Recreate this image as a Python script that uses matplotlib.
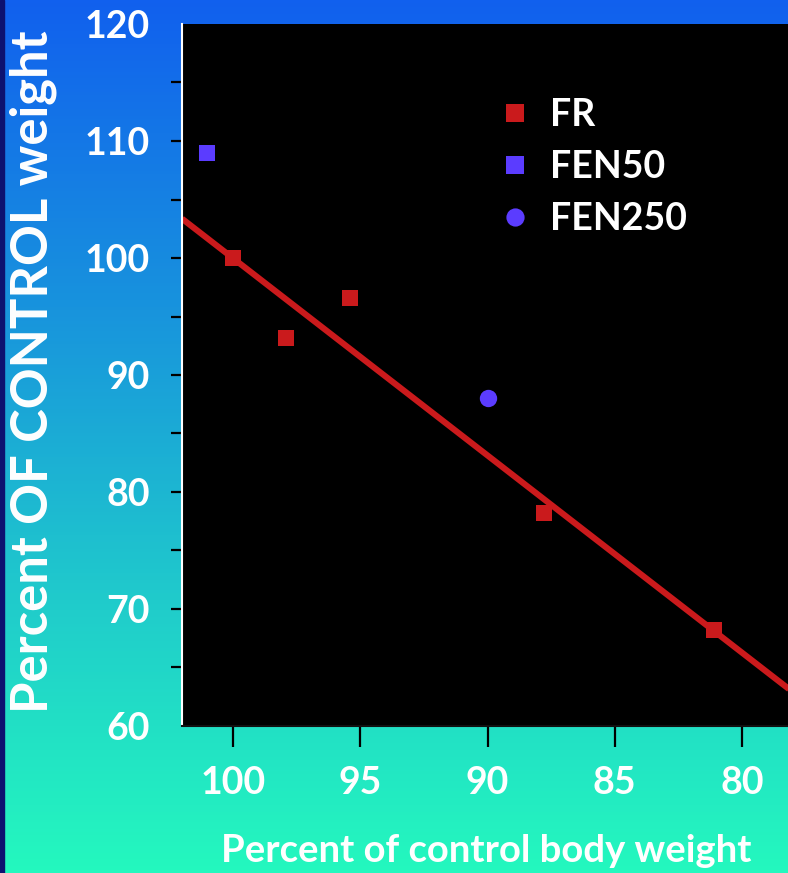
import numpy as np
import matplotlib
matplotlib.use("Agg")
import matplotlib.pyplot as plt
from matplotlib.colors import LinearSegmentedColormap

# ---- data ----
fr_x = [100.0, 97.9, 95.4, 87.8, 81.1]
fr_y = [100.0, 93.2, 96.6, 78.2, 68.2]
fen50_x = [101.0]
fen50_y = [109.0]
fen250_x = [90.0]
fen250_y = [88.0]
x_ticks = [100, 95, 90, 85, 80]
y_ticks = [60, 70, 80, 90, 100, 110, 120]
y_minor = [65, 75, 85, 95, 105, 115]
labels = ["FR", "FEN50", "FEN250"]

RED = "#CA1A1C"
BLUE = "#5B3CFF"
FONT = ["Lato", "DejaVu Sans"]
W = "bold"

fig = plt.figure(figsize=(7.88, 8.73), dpi=100)

# background gradient
bg = fig.add_axes([0, 0, 1, 1], zorder=-10)
cmap = LinearSegmentedColormap.from_list(
    "bg", [(0.0, "#1160EE"), (0.35, "#1893DD"), (0.7, "#20CDCB"), (1.0, "#24F8BE")])
grad = np.linspace(0, 1, 256).reshape(-1, 1)
bg.imshow(grad, aspect="auto", cmap=cmap, extent=[0, 1, 0, 1], origin="upper")
bg.add_patch(plt.Rectangle((0, 0), 4 / 788, 1, color="#0D1270", transform=bg.transAxes))
bg.set_xlim(0, 1)
bg.set_ylim(0, 1)
bg.axis("off")

ax = fig.add_axes([182 / 788, 147 / 873, 611 / 788, 702 / 873])
ax.set_facecolor("black")
ax.set_xlim(102, 78)
ax.set_ylim(60, 120)

# regression line through FR points
k, b = np.polyfit(fr_x, fr_y, 1)
xl = np.array([102, 78])
ax.plot(xl, k * xl + b, color=RED, lw=4.4, solid_capstyle="butt", zorder=2)

ax.plot(fr_x, fr_y, "s", color=RED, ms=12, mew=0, zorder=3, label=labels[0])
ax.plot(fen50_x, fen50_y, "s", color=BLUE, ms=12, mew=0, zorder=3, label=labels[1])
ax.plot(fen250_x, fen250_y, "o", color=BLUE, ms=12.5, mew=0, zorder=3, label=labels[2])

ax.set_xticks(x_ticks)
ax.set_xticklabels([str(v) for v in x_ticks])
ax.set_yticks(y_ticks)
ax.set_yticklabels([str(v) for v in y_ticks])
ax.set_yticks(y_minor, minor=True)

ax.tick_params(axis="x", direction="out", length=15, width=1.6, color="black",
               pad=14, labelcolor="white", labelsize=27)
ax.tick_params(axis="y", which="both", direction="out", length=8, width=1.6,
               color="black", pad=15, labelcolor="white", labelsize=27)
for t in ax.get_xticklabels() + ax.get_yticklabels():
    t.set_fontweight(W)
    t.set_family(FONT)
yt = ax.yaxis.get_major_ticks()
yt[0].tick1line.set_visible(False)
yt[-1].tick1line.set_visible(False)

for s in ["top", "right"]:
    ax.spines[s].set_visible(False)
ax.spines["left"].set_color("white")
ax.spines["left"].set_linewidth(1.5)
ax.spines["bottom"].set_color("#111111")
ax.spines["bottom"].set_linewidth(1.5)

fig.text(33 / 788, 1 - 372 / 873, "Percent OF CONTROL weight", color="white",
         fontsize=36.5, fontweight=W, family=FONT, rotation=90, ha="center", va="center")
fig.text(486 / 788, 1 - 851 / 873, "Percent of control body weight", color="white",
         fontsize=27.5, fontweight=W, family=FONT, ha="center", va="center")

leg = ax.legend(loc="upper left", bbox_to_anchor=(0.471, 0.942), frameon=False,
                labelcolor="white", handlelength=0.6, handletextpad=0.65,
                labelspacing=0.47, markerscale=1.05,
                prop={"family": FONT, "weight": W, "size": 27})

fig.savefig("out.png", dpi=100, facecolor=fig.get_facecolor())
